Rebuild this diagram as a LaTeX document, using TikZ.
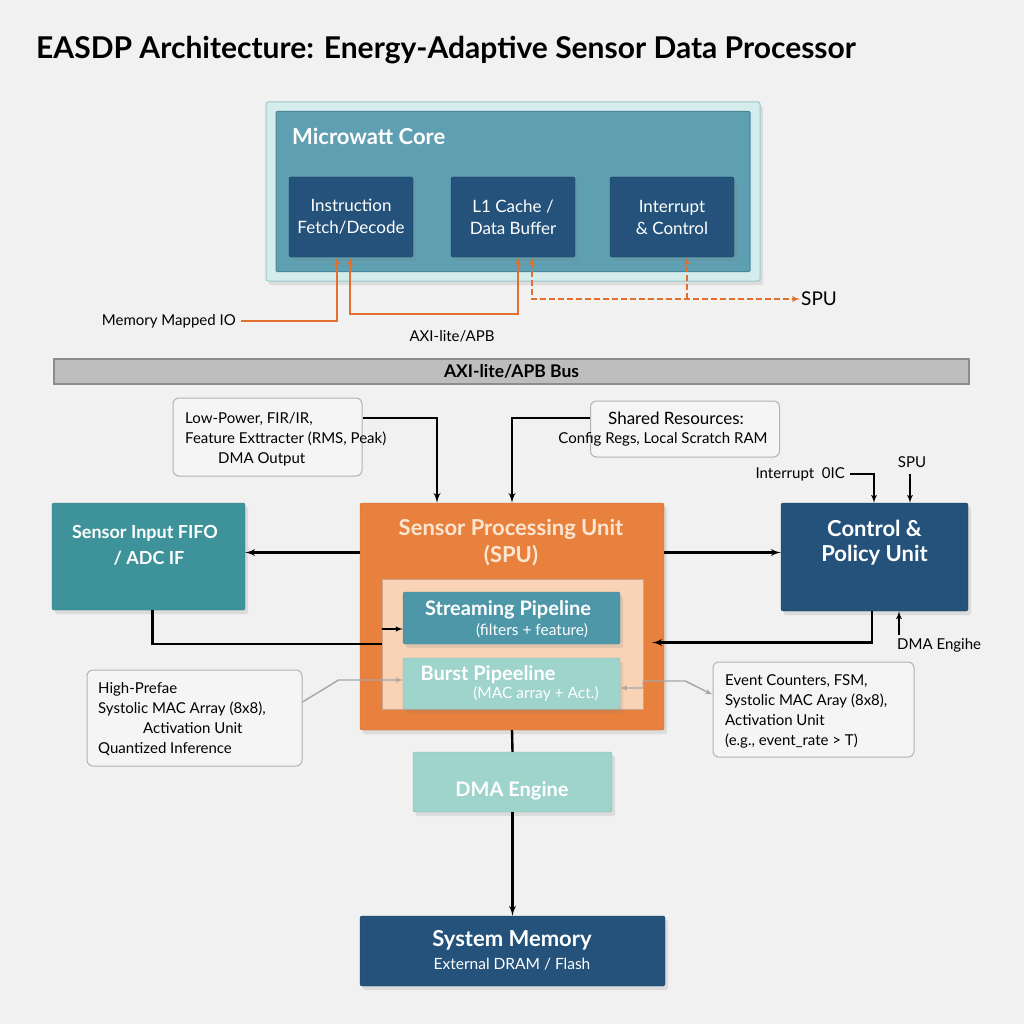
\documentclass[tikz,border=0pt]{standalone}
\usepackage{fontspec}
\setmainfont{Lato}
\usepackage{tikz}
\usetikzlibrary{positioning}
\usetikzlibrary{shapes,backgrounds,arrows,shadows}

\definecolor{pagebg}{HTML}{F1F1F1}
\definecolor{coreout}{HTML}{D5ECEC}
\definecolor{coreoutedge}{HTML}{9CC6CB}
\definecolor{corein}{HTML}{5F9FB2}
\definecolor{coreinedge}{HTML}{4A8699}
\definecolor{navy}{HTML}{24527A}
\definecolor{navyedge}{HTML}{1B4163}
\definecolor{sensorteal}{HTML}{3D9399}
\definecolor{spuorange}{HTML}{E8813E}
\definecolor{spuedge}{HTML}{C96A2E}
\definecolor{spucream}{HTML}{FBE6D3}
\definecolor{peach}{HTML}{F8D3B6}
\definecolor{peachedge}{HTML}{C9A68C}
\definecolor{streamblue}{HTML}{4E97A9}
\definecolor{mint}{HTML}{9ED4CB}
\definecolor{mintedge}{HTML}{7DB8AF}
\definecolor{busgray}{HTML}{BDBDBD}
\definecolor{busedge}{HTML}{8C8C8C}
\definecolor{wireorange}{HTML}{E36F2E}
\definecolor{notefill}{HTML}{F5F5F5}

\tikzstyle{line} = [draw, line width=2.4pt, -latex']
\tikzstyle{wire} = [draw=wireorange, line width=1.7pt, -latex']
\tikzstyle{greyline} = [draw=black!35, line width=1.4pt, -latex']
\tikzstyle{block} = [rectangle, rounded corners=2pt, text=white, align=center, drop shadow={opacity=0.18,shadow xshift=3pt,shadow yshift=-4pt}]
\tikzstyle{note} = [rectangle, draw=black!30, fill=notefill, rounded corners=6pt, line width=1pt]
\tikzstyle{txt} = [font=\fontsize{15}{20}\selectfont, inner sep=0pt]

\begin{document}
\begin{tikzpicture}[x=1pt, y=-1pt]
	\fill[pagebg] (0,0) rectangle (1024,1024);
	\useasboundingbox (0,0) rectangle (1024,1024);

	\node[anchor=west, inner sep=0pt, font=\fontsize{30}{34}\selectfont\bfseries] (title) at (36,50) {EASDP Architecture: Energy-Adaptive Sensor Data Processor};

	% microwatt core
	\node[block, fill=coreout, draw=coreoutedge, line width=1pt, minimum width=494, minimum height=179] (coreshell) at (513,191.5) {};
	\node[rectangle, fill=corein, draw=coreinedge, line width=1pt, rounded corners=1pt, minimum width=474, minimum height=160] (core) at (513,191.5) {};
	\node[anchor=west, inner sep=0pt, text=white, font=\fontsize{22}{26}\selectfont\bfseries] (coretitle) at (292,136) {Microwatt Core};

	\node[block, fill=navy, draw=navyedge, minimum width=124, minimum height=80, font=\fontsize{17}{22}\selectfont] (fetch) at (351,217) {Instruction\\Fetch/Decode};
	\node[block, fill=navy, draw=navyedge, minimum width=124, minimum height=80, font=\fontsize{17}{22}\selectfont] (l1) at (513,217) {L1 Cache /\\Data Buffer};
	\node[block, fill=navy, draw=navyedge, minimum width=124, minimum height=80, font=\fontsize{17}{22}\selectfont] (irq) at (672,217) {Interrupt\\\& Control};

	\node[txt, anchor=east] (mmio) at (236,321) {Memory Mapped IO};
	\node[anchor=west, inner sep=1pt, font=\fontsize{19}{22}\selectfont] (spulink) at (800,299) {SPU};
	\node[txt] (axilbl) at (452,336) {AXI-lite/APB};
	\coordinate (irqtap) at ([xshift=15]irq.south);

	\draw[wire] ([xshift=5]mmio.east) -| ([xshift=-14]fetch.south);
	\draw[wire, latex'-latex'] ([xshift=-1]fetch.south) -- ++(0,57) -| ([xshift=5]l1.south);
	\draw[wire, dash pattern=on 6pt off 3pt, latex'-latex'] ([xshift=19]l1.south) |- (spulink.west);
	\draw[wire, dash pattern=on 6pt off 3pt] (irqtap |- spulink.west) -- (irqtap);

	% bus
	\node[rectangle, fill=busgray, draw=busedge, line width=1.2pt, minimum width=915, minimum height=25, font=\fontsize{17.5}{20}\selectfont\bfseries] (bus) at (511.5,371.5) {AXI-lite/APB Bus};

	% notes above the spu
	\node[note, minimum width=189, minimum height=78] (lpnote) at (267.5,437) {};
	\node[txt, anchor=north west, align=left] (lptext) at (185,412) {Low-Power, FIR/IR,\\Feature Exttracter (RMS, Peak)\\\hspace*{33pt}DMA Output};
	\node[note, minimum width=189, minimum height=56] (shnote) at (685,429) {};
	\node[inner sep=0pt, font=\fontsize{17}{20}\selectfont] (shtitle) at (676,418) {Shared Resources:};
	\node[txt] (shtext) at (663,439) {Config Regs, Local Scratch RAM};

	% spu
	\node[block, fill=spuorange, draw=spuedge, minimum width=304, minimum height=227] (spu) at (512,616.5) {};
	\node[align=center, text=spucream, font=\fontsize{22}{27}\selectfont\bfseries] (sputitle) at (511,543) {Sensor Processing Unit\\(SPU)};
	\node[rectangle, fill=peach, draw=peachedge, minimum width=261, minimum height=130] (spucore) at (512.5,644) {};
	\node[block, fill=streamblue, draw=coreinedge, minimum width=217, minimum height=52] (stream) at (511.5,618) {};
	\node[inner sep=0pt, text=white, font=\fontsize{20}{24}\selectfont\bfseries] (streamtitle) at (508,610) {Streaming Pipeline};
	\node[inner sep=0pt, text=white, font=\fontsize{15.5}{18}\selectfont] (streamsub) at (532,631) {(filters + feature)};
	\node[block, fill=mint, draw=mintedge, minimum width=217, minimum height=51] (burst) at (511.5,683.5) {};
	\node[inner sep=0pt, text=white, font=\fontsize{20}{24}\selectfont\bfseries] (bursttitle) at (488,675) {Burst Pipeeline};
	\node[inner sep=0pt, text=white, font=\fontsize{15.5}{18}\selectfont] (burstsub) at (536,694) {(MAC array + Act.)};

	% sensor input and control
	\node[block, fill=sensorteal, draw=sensorteal!80!black, minimum width=193, minimum height=107] (sensor) at (148.5,556.5) {};
	\node[align=center, text=white, font=\fontsize{18}{26}\selectfont\bfseries] (sensortitle) at (145,545) {Sensor Input FIFO\\\hspace*{8pt}/ ADC IF};
	\node[block, fill=navy, draw=navyedge, minimum width=187, minimum height=108] (ctrl) at (874.5,557) {};
	\node[align=center, text=white, font=\fontsize{22}{25}\selectfont\bfseries] (ctrltitle) at (874.5,542.5) {Control \&\\Policy Unit};

	\node[txt, anchor=east] (irqlbl) at (845,474) {Interrupt\ \ 0IC};
	\node[txt] (ctrlspu) at (912,462) {SPU};
	\node[txt, anchor=north west] (dmalbl) at (897,638) {DMA Engihe};

	\coordinate (sensorin) at ([yshift=4]sensor.east);
	\coordinate (feedin) at ([yshift=-11]stream.west);
	\coordinate (ctrlin) at ([xshift=-12,yshift=-26]spu.east);

	\draw[line] ([yshift=19]lpnote.east) -| ([xshift=-75]spu.north);
	\draw[line] ([yshift=11]shnote.west) -| (spu.north);
	\draw[line] (spu.west |- sensorin) -- (sensorin);
	\draw[line] (spu.east |- sensorin) -- (ctrl.west |- sensorin);
	\draw[line, -] ([xshift=4]sensor.south) |- (spucore.west);
	\draw[line, line width=1.5pt] (spucore.west |- feedin) -- (feedin);
	\draw[line] ([xshift=-2.5]ctrl.south) |- (ctrlin);
	\draw[line, line width=1.7pt] ([xshift=5]irqlbl.east) -| ([xshift=-0.5]ctrl.north);
	\draw[line, line width=1.7pt] ([xshift=-2,yshift=-6]ctrlspu.south) -- ([xshift=-2]ctrlspu.south |- ctrl.north);
	\draw[line, line width=1.7pt] ([xshift=2,yshift=3]dmalbl.north west) -- ([xshift=2]dmalbl.north west |- ctrl.south);

	% notes beside the pipelines
	\node[note, minimum width=215, minimum height=96] (hpnote) at (194.5,718) {};
	\node[txt, anchor=north west, align=left] (hptext) at (98,682) {High-Prefae\\Systolic MAC Array (8x8),\\\hspace*{45pt}Activation Unit\\Quantized Inference};
	\node[note, minimum width=201, minimum height=95] (evnote) at (813.5,709.5) {};
	\node[txt, anchor=north west, align=left] (evtext) at (725,674) {Event Counters, FSM,\\Systolic MAC Aray (8x8),\\Activation Unit\\(e.g., event\_rate > T)};

	\draw[greyline] ([yshift=16]hpnote.east) -- ++(36,-22) -- ([yshift=3.5]burst.west);
	\draw[greyline, latex'-latex'] ([yshift=-4.5]burst.east) -- ++(23,0) -- ++(0,-7) -- ++(42,0) -- ([yshift=15]evnote.west);

	% dma and memory
	\node[block, fill=mint, draw=mintedge, minimum width=199, minimum height=60] (dma) at (512.5,782) {};
	\node[inner sep=0pt, text=white, font=\fontsize{20}{24}\selectfont\bfseries] (dmatitle) at (512,791) {DMA Engine};
	\node[block, fill=navy, draw=navyedge, minimum width=305, minimum height=70] (sysmem) at (512.5,951) {};
	\node[inner sep=0pt, text=white, font=\fontsize{22}{26}\selectfont\bfseries] (memtitle) at (512,940) {System Memory};
	\node[inner sep=0pt, text=white, font=\fontsize{15.5}{18}\selectfont] (memsub) at (512,964) {External DRAM / Flash};

	\draw[line, -] (spu.south) -- (dma.north);
	\draw[line] (dma.south) -- (sysmem.north);
\end{tikzpicture}
\end{document}
